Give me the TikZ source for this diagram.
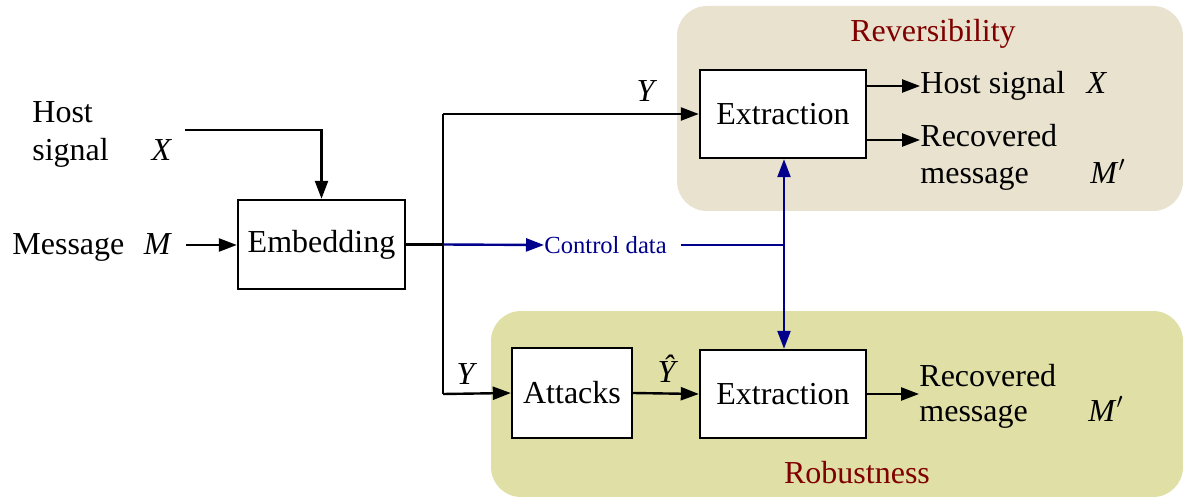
\documentclass[tikz,border=0pt]{standalone}
\usepackage{fontspec}
\setmainfont{Liberation Serif}
\usetikzlibrary{arrows.meta}
\definecolor{revbg}{RGB}{232,226,207}
\definecolor{robbg}{RGB}{223,223,166}
\definecolor{titlered}{RGB}{128,0,0}
\definecolor{ctrlblue}{RGB}{0,0,140}
\tikzset{
  blockbox/.style={draw, line width=1.2pt, fill=white, inner sep=0pt, font=\fontsize{16}{18}\selectfont},
  tip/.style={-{Triangle[length=9pt,width=6.5pt]}},
  flow/.style={line width=1.2pt, tip},
  plain/.style={line width=1.2pt},
  ctrl/.style={line width=1.2pt, draw=ctrlblue},
  ctrlarrow/.style={ctrl, tip, ctrlblue},
  lbl/.style={font=\fontsize{16}{18}\selectfont, inner sep=0pt},
  title/.style={font=\fontsize{16}{18}\selectfont, text=titlered, inner sep=0pt},
}
\begin{document}
\begin{tikzpicture}[x=0.5pt, y=-0.5pt]
\useasboundingbox (0,0) rectangle (1183,497);

% shaded regions
\fill[revbg, rounded corners=15pt] (677,6) rectangle (1183,211);
\fill[robbg, rounded corners=15pt] (491,311) rectangle (1183,497);
\node[title, anchor=base] (revtitle) at (933,42) {Reversibility};
\node[title, anchor=base] (robtitle) at (857,483) {Robustness};

% blocks
\node[blockbox, minimum width=83.5pt, minimum height=44.5pt] (emb) at (321.5,244.5) {Embedding};
\node[blockbox, minimum width=83pt, minimum height=44pt] (ext1) at (783,114) {Extraction};
\node[blockbox, minimum width=60pt, minimum height=45pt] (att) at (572,393) {Attacks};
\node[blockbox, minimum width=83pt, minimum height=44pt] (ext2) at (783,394) {Extraction};

% inputs
\node[lbl, anchor=base west] (host) at (32,123) {Host};
\node[lbl, anchor=base west] (signal) at (32,161) {signal};
\node[lbl, anchor=base] (hx) at (162,161) {\textit{X}};
\node[lbl, anchor=base west] (msg) at (12,255) {Message};
\node[lbl, anchor=base] (mm) at (158,255) {\textit{M}};
\coordinate (hin) at (185,130);
\coordinate (min) at (186,245);
\draw[flow] (hin) -| (emb.north);
\draw[flow] (min) -- (min -| emb.west);

% embedding output split
\coordinate (split) at (443,244.5);
\coordinate (splittop) at (443,114);
\coordinate (splitbot) at (443,394);
\draw[plain] (emb.east) -- (split);
\draw[plain] (splittop) -- (splitbot);
\draw[flow] (splittop) -- (ext1.west);
\draw[flow] (splitbot) -- (att.west);
\node[lbl, anchor=base] (y1) at (647,102) {\textit{Y}};
\node[lbl, anchor=base] (y2) at (467,384) {\textit{Y}};

% attacks to extraction
\draw[flow] (att.east) -- (ext2.west);
\node[lbl, anchor=base] (yhat) at (668,382) {\textit{\^Y}};

% control data
\node[font=\fontsize{12.3}{14}\selectfont, text=ctrlblue, anchor=west, inner sep=0pt] (ctrl) at (544,245) {Control data};
\coordinate (cjoin) at (784,245);
\draw[ctrlarrow] (split) -- (ctrl.west);
\draw[ctrl] ([xshift=7pt]ctrl.east) -- (cjoin);
\draw[ctrlarrow] (cjoin) -- (ext1.south -| cjoin);
\draw[ctrlarrow] (cjoin) -- (ext2.north -| cjoin);

% outputs of upper extraction
\coordinate (o1a) at (866,86);
\coordinate (o1b) at (866,140);
\node[lbl, anchor=base west] (hs) at (920,94) {Host signal};
\node[lbl, anchor=base] (hsx) at (1097,94) {\textit{X}};
\node[lbl, anchor=base west] (rec1) at (920,147) {Recovered};
\node[lbl, anchor=base west] (mes1) at (920,184) {message};
\node[lbl, anchor=base] (m1) at (1108,184) {\textit{M}$'$};
\draw[flow] (o1a) -- (o1a -| hs.west);
\draw[flow] (o1b) -- (o1b -| rec1.west);

% output of lower extraction
\node[lbl, anchor=base west] (rec2) at (919,386) {Recovered};
\node[lbl, anchor=base west] (mes2) at (919,421) {message};
\node[lbl, anchor=base] (m2) at (1106,421) {\textit{M}$'$};
\draw[flow] (ext2.east) -- (ext2.east -| rec2.west);
\end{tikzpicture}
\end{document}
